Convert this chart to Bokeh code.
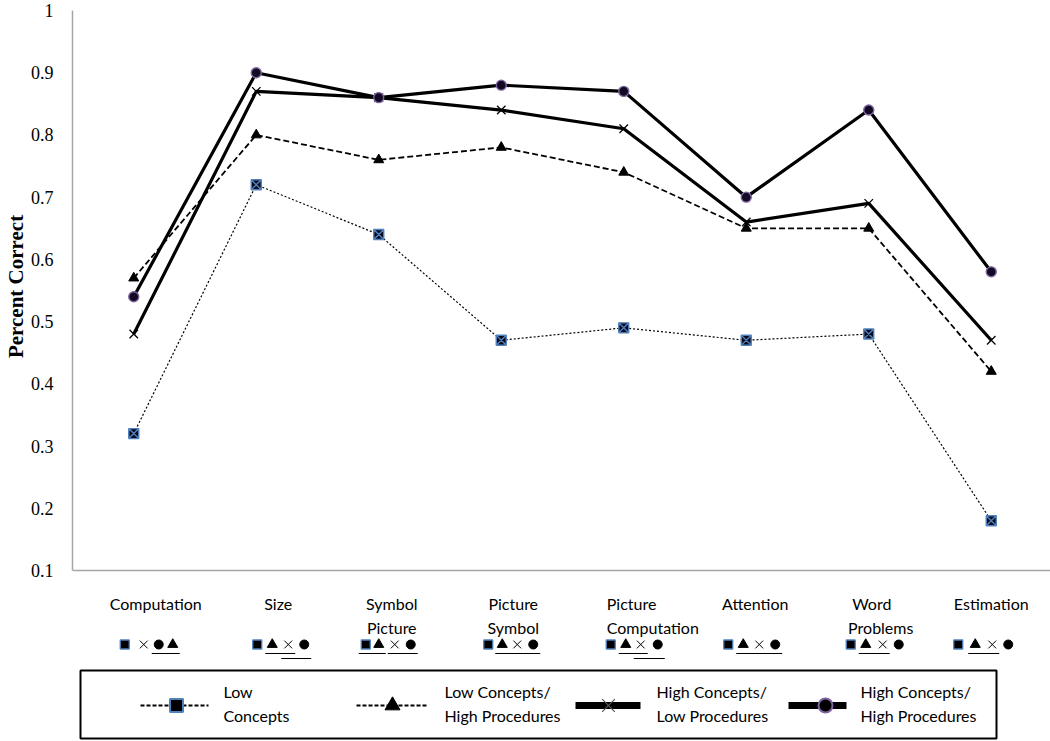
from bokeh.plotting import figure
from bokeh.layouts import column
from bokeh.models import Range1d, Span, FixedTicker, CustomJSTickFormatter
from bokeh.core.properties import value
from bokeh.embed import file_html
from bokeh.resources import INLINE

# ---------------- data ----------------
categories = ["Computation", "Size", "Symbol Picture", "Picture Symbol",
              "Picture Computation", "Attention", "Word Problems", "Estimation"]
label_lines = [["Computation"], ["Size"], ["Symbol", "Picture"], ["Picture", "Symbol"],
               ["Picture", "Computation"], ["Attention"], ["Word", "Problems"], ["Estimation"]]

low_concepts = [0.32, 0.72, 0.64, 0.47, 0.49, 0.47, 0.48, 0.18]
lowc_highp = [0.57, 0.80, 0.76, 0.78, 0.74, 0.65, 0.65, 0.42]
highc_lowp = [0.48, 0.87, 0.86, 0.84, 0.81, 0.66, 0.69, 0.47]
highc_highp = [0.54, 0.90, 0.86, 0.88, 0.87, 0.70, 0.84, 0.58]

series_labels = [["Low", "Concepts"], ["Low  Concepts/", "High Procedures"],
                 ["High  Concepts/", "Low Procedures"], ["High  Concepts/", "High Procedures"]]

y_ticks = [0.1, 0.2, 0.3, 0.4, 0.5, 0.6, 0.7, 0.8, 0.9, 1.0]

# group symbols shown under each category, and which ones are underlined together
sym_order = [["sq", "x", "ci", "tr"]] + [["sq", "tr", "x", "ci"]] * 7
underline_groups = [[(2, 3)], [(1, 2), (2, 3)], [(0, 1), (2, 3)], [(1, 3)],
                    [(1, 2), (2, 3)], [(1, 3)], [(1, 2)], [(1, 2)]]

# ---------------- layout (pixels) ----------------
W = 1050
LEFT = 72
PX_PER_CAT = 122.5
S = 622.2            # px per unit of "percent correct"
TOP_PAD = 10         # px between frame top and 1.0
MAIN_H = 580
BOT_H = 160

x_range = Range1d(0, (W - LEFT) / PX_PER_CAT)
y_end = 1 + TOP_PAD / S
y_start = 0.1 - 2 / S

p = figure(width=W, height=MAIN_H, x_range=x_range, y_range=Range1d(y_start, y_end),
           x_axis_location=None, toolbar_location=None, output_backend="svg",
           min_border_left=LEFT, min_border_right=0, min_border_top=0, min_border_bottom=8)
p.outline_line_color = None
p.xgrid.visible = False
p.ygrid.visible = False

ax = p.yaxis[0]
ax.bounds = (0.1, 1.0)
ax.ticker = FixedTicker(ticks=y_ticks)
ax.formatter = CustomJSTickFormatter(code="return String(Math.round(tick*10)/10)")
ax.axis_line_color = "#a6a6a6"
ax.axis_line_width = 1.5
ax.major_tick_line_color = None
ax.minor_tick_line_color = None
ax.major_label_text_font = "Liberation Serif"
ax.major_label_text_font_size = "18px"
ax.major_label_text_color = "black"
ax.major_label_standoff = 13
ax.axis_label = "Percent Correct"
ax.axis_label_text_font = "Liberation Serif"
ax.axis_label_text_font_style = "bold"
ax.axis_label_text_font_size = "21px"
ax.axis_label_text_color = "black"
ax.axis_label_standoff = 0

p.add_layout(Span(location=0.1, dimension="width", line_color="#a6a6a6", line_width=1.5))

xs = [i + 0.5 for i in range(len(categories))]

# lines
p.line(xs, low_concepts, line_color="black", line_width=1.2, line_dash="2 2")
p.line(xs, lowc_highp, line_color="black", line_width=1.8, line_dash="6 3")
p.line(xs, highc_lowp, line_color="black", line_width=3.2)
p.line(xs, highc_highp, line_color="black", line_width=3.2)

# markers
p.scatter(xs, low_concepts, marker="square_x", size=10, fill_color="#0b0b1e",
          line_color="#4f81bd", line_width=1.4)
p.scatter(xs, lowc_highp, marker="triangle", size=10, fill_color="black", line_color="black")
p.scatter(xs, highc_lowp, marker="x", size=12, line_color="black", line_width=1.3)
p.scatter(xs, highc_highp, marker="circle", size=10, fill_color="#120a22",
          line_color="#8064a2", line_width=1.4)

# ---------------- lower panel: category labels, symbol rows, legend ----------------
# y of this panel is in page pixels (top = 580), x shares the category scale
b = figure(width=W, height=BOT_H, x_range=x_range, y_range=Range1d(MAIN_H + BOT_H, MAIN_H),
           x_axis_location=None, y_axis_location=None, toolbar_location=None, output_backend="svg",
           min_border_left=LEFT, min_border_right=0, min_border_top=0, min_border_bottom=0)
b.outline_line_color = None
b.xgrid.visible = False
b.ygrid.visible = False


def px(img_x):
    return (img_x - LEFT) / PX_PER_CAT


FONT = value("Lato")
label_offsets = [[22], [22], [13, 13], [12, 12], [-17, -17], [9], [3, 12], [0]]
label_align = ["center", "center", "center", "center", "left", "center", "center", "center"]
line_y = [603, 627]
for i, lines in enumerate(label_lines):
    for j, t in enumerate(lines):
        b.text(x=[xs[i]], y=[line_y[j]], text=[t], x_offset=label_offsets[i][j],
               text_font=FONT, text_font_size="16px", text_align=label_align[i],
               text_baseline="middle", text_color="black")

sym_offsets = [[-9, 10, 25, 39], [1, 16, 32, 48], [-13, 0, 16, 32], [-13, 1, 16, 32],
               [-13, 2, 17, 34], [-18, -3, 13, 29], [-18, -3, 14, 30], [-33, -16, 1, 17]]
sym_style = {
    "sq": dict(marker="square", size=9, fill_color="black", line_color="#4f81bd", line_width=1.3),
    "tr": dict(marker="triangle", size=10, fill_color="black", line_color="black"),
    "x": dict(marker="x", size=11, line_color="black", line_width=1.0),
    "ci": dict(marker="circle", size=9, fill_color="black", line_color="black"),
}
row_y = 644
for i, order in enumerate(sym_order):
    for k, s in enumerate(order):
        b.scatter([xs[i] + sym_offsets[i][k] / PX_PER_CAT], [row_y], **sym_style[s])
    prev = None
    for (a, c) in underline_groups[i]:
        x0 = xs[i] + (sym_offsets[i][a] - 7) / PX_PER_CAT
        x1 = xs[i] + (sym_offsets[i][c] + 7) / PX_PER_CAT
        uy = 653
        if prev is not None and a <= prev[1]:
            uy = 658
        b.segment(x0=[x0], y0=[uy], x1=[x1], y1=[uy], line_color="black", line_width=1.2)
        prev = (a, c)

# legend box
b.quad(left=[px(80)], right=[px(996)], top=[670], bottom=[738],
       fill_color=None, line_color="black", line_width=2)
ly = 705
b.segment(x0=[px(140)], y0=[ly], x1=[px(208)], y1=[ly], line_color="black", line_width=1.8, line_dash="4 2")
b.scatter([px(176)], [ly], marker="square", size=13, fill_color="black", line_color="#4f81bd", line_width=2)
b.segment(x0=[px(356)], y0=[ly], x1=[px(427)], y1=[ly], line_color="black", line_width=1.8, line_dash="4 2")
b.scatter([px(392)], [ly], marker="triangle", size=15, fill_color="black", line_color="black")
b.segment(x0=[px(575)], y0=[ly], x1=[px(640)], y1=[ly], line_color="black", line_width=7)
b.scatter([px(608)], [ly], marker="x", size=18, line_color="#555555", line_width=1.2)
b.segment(x0=[px(788)], y0=[ly], x1=[px(846)], y1=[ly], line_color="black", line_width=7)
b.scatter([px(825)], [ly], marker="circle", size=14, fill_color="black", line_color="#8064a2", line_width=2)

legend_text_x = [223, 444, 656, 860]
for k, lines in enumerate(series_labels):
    for j, t in enumerate(lines):
        b.text(x=[px(legend_text_x[k])], y=[691 + 24 * j], text=[t], text_font=FONT,
               text_font_size="16px", text_align="left", text_baseline="middle", text_color="black")

layout = column(p, b, spacing=0)
open("out.html", "w").write(file_html(layout, INLINE))
